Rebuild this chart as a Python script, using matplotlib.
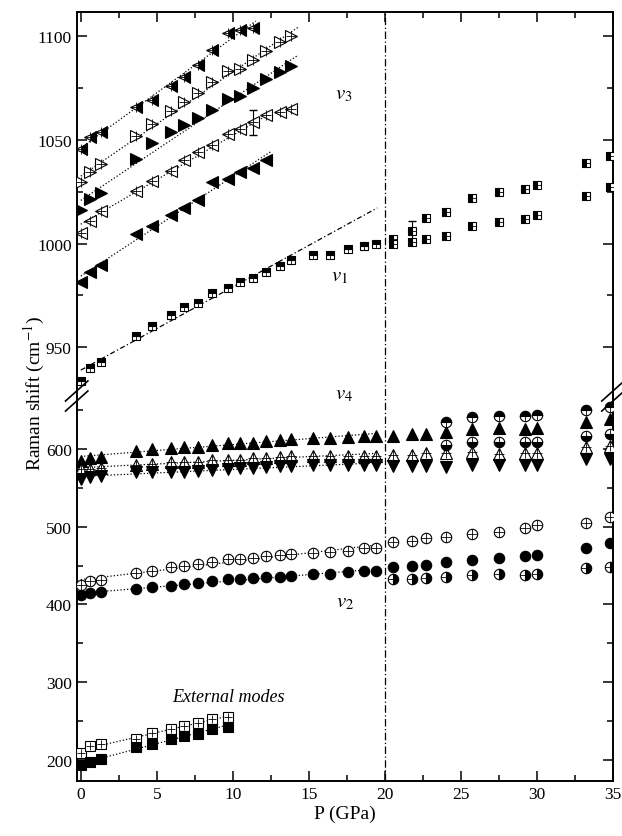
import numpy as np
import matplotlib
matplotlib.use("Agg")
import matplotlib.pyplot as plt
from matplotlib.ticker import MultipleLocator

plt.rcParams['font.family'] = ['Liberation Serif', 'DejaVu Serif']
plt.rcParams['mathtext.fontset'] = 'stix'

# ---------------- data ----------------
P_lo = [0, 0.6, 1.3, 3.6, 4.7, 5.9, 6.8, 7.7, 8.6, 9.7, 10.5, 11.3, 12.2, 13.1, 13.8]
P_mid = [15.3, 16.4, 17.6, 18.6, 19.4]
P_hi = [20.5, 21.8, 22.7, 24.0, 25.7, 27.5, 29.2, 30.0, 33.2, 34.8]
P_hi2 = [24.0, 25.7, 27.5, 29.2, 30.0, 33.2, 34.8]
P_ext = [0, 0.6, 1.3, 3.6, 4.7, 5.9, 6.8, 7.7, 8.6, 9.7]

# v3 (five branches)
v3a_P = [0, 0.6, 1.3, 3.6, 4.7, 5.9, 6.8, 7.7, 8.6, 9.7, 10.5, 11.3]
v3a = [1045.5, 1051.1, 1053.5, 1065.5, 1069.0, 1075.9, 1080.4, 1085.9, 1093.1, 1101.2, 1102.7, 1104.0]
v3b = [1029.4, 1034.2, 1038.2, 1051.9, 1057.5, 1063.6, 1067.9, 1072.7, 1077.6, 1083.1, 1084.0, 1088.3, 1092.5, 1096.8, 1100.0]
v3c = [1016.2, 1021.4, 1024.3, 1040.6, 1048.3, 1053.5, 1057.0, 1060.2, 1064.2, 1069.5, 1070.8, 1075.1, 1079.2, 1082.7, 1085.6]
v3d = [1005.3, 1010.9, 1015.7, 1025.4, 1030.2, 1035.0, 1040.3, 1043.9, 1047.4, 1052.7, 1055.1, 1058.3, 1061.8, 1063.1, 1064.7]
v3e_P = [0, 0.6, 1.3, 3.6, 4.7, 5.9, 6.8, 7.7, 8.6, 9.7, 10.5, 11.3, 12.2]
v3e = [981.3, 986.4, 989.6, 1004.5, 1008.5, 1013.7, 1016.9, 1021.0, 1029.7, 1031.0, 1034.5, 1036.3, 1040.3]

# v1
v1_lo = [933.9, 939.9, 943.0, 955.6, 960.4, 965.5, 969.5, 971.3, 976.1, 978.4, 981.3, 983.3, 986.1, 989.0, 992.2]
v1_mid = [994.4, 994.6, 997.3, 998.9, 999.7]
v1_hi_up = [1002.4, 1006.0, 1012.2, 1015.0, 1021.7, 1024.6, 1026.2, 1028.1, 1039.0, 1042.2]
v1_hi_dn = [1000.0, 1000.8, 1002.1, 1003.4, 1008.5, 1010.2, 1011.7, 1013.7, 1023.0, 1027.0]

# v4
v4_up_lo = [585.0, 588.4, 590.0, 597.8, 600.0, 601.3, 602.0, 603.0, 605.0, 607.0, 607.5, 608.0, 610.0, 612.0, 613.0]
v4_up_mid = [614.0, 614.5, 615.0, 616.0, 617.0]
v4_up_hi = [617.0, 619.0, 619.5, 621.4, 625.7, 627.0, 625.0, 627.0, 634.0, 638.6]
v4_op_lo = [574.0, 574.5, 575.0, 579.4, 580.7, 582.8, 582.8, 583.7, 585.8, 586.0, 586.3, 588.0, 588.4, 590.0, 591.4]
v4_op_mid = [590.6, 590.8, 591.0, 591.2, 591.4]
v4_op_hi = [592.3, 592.3, 594.8, 595.0, 595.5, 594.0, 594.8, 594.8, 602.0, 604.0]
v4_dn_lo = [561.4, 563.5, 564.8, 570.0, 570.0, 570.2, 570.8, 571.5, 573.4, 574.3, 574.8, 575.2, 576.4, 577.5, 577.7]
v4_dn_mid = [579.4, 579.4, 579.4, 579.4, 579.4]
v4_dn_hi = [578.6, 577.7, 577.7, 576.4, 579.4, 579.4, 579.4, 579.4, 587.0, 587.0]
v4_ht_hi2 = [635.0, 640.8, 642.0, 642.0, 643.8, 650.0, 653.6]
v4_hb_hi2 = [605.0, 608.6, 609.4, 609.4, 609.4, 617.0, 619.0]

# v2
v2_op_lo = [425.0, 429.7, 431.8, 441.0, 443.4, 448.5, 450.0, 452.0, 455.0, 458.4, 458.8, 459.5, 462.0, 463.6, 464.5]
v2_op_mid = [466.0, 467.0, 469.0, 472.0, 472.4]
v2_op_hi = [480.0, 481.0, 485.0, 487.2, 490.6, 493.6, 497.9, 502.0, 504.3, 513.0]
v2_fi_lo = [412.0, 414.3, 415.6, 420.0, 422.0, 424.0, 426.0, 427.5, 429.7, 432.7, 433.2, 433.4, 434.8, 435.5, 436.0]
v2_fi_mid = [439.0, 439.2, 442.0, 443.0, 443.4]
v2_fi_hi = [447.7, 449.8, 451.0, 454.0, 457.0, 459.7, 462.7, 464.0, 472.6, 478.6]
v2_hf_hi = [432.7, 433.2, 434.0, 434.8, 438.0, 438.5, 438.0, 439.0, 446.8, 447.5]

# external modes
ext_op = [209.6, 218.0, 220.0, 227.5, 234.4, 240.4, 244.0, 247.4, 252.6, 254.7]
ext_fi = [193.6, 198.0, 201.3, 216.4, 220.7, 227.0, 231.4, 233.6, 240.0, 243.0]

x_ticks = [0, 5, 10, 15, 20, 25, 30, 35]
transition_P = 20

# ---------------- figure ----------------
fig = plt.figure(figsize=(6.22, 8.37), dpi=100)
L, W = 0.1233, 0.8622
axT = fig.add_axes([L, 0.5257, W, 0.4591])
axB = fig.add_axes([L, 0.0661, W, 0.4596])

axT.set_xlim(-0.27, 35.0)
axB.set_xlim(-0.27, 35.0)
axT.set_ylim(926.6, 1111.6)
axB.set_ylim(173.4, 668)

K = 'black'
ms_tri = 8
ms_cir = 7.5
ms_sq = 6


def pts(ax, x, y, marker, ms, fill='full', face=K, cross=False):
    ax.plot(x, y, linestyle='none', marker=marker, markersize=ms, fillstyle=fill,
            markerfacecolor=face, markerfacecoloralt='white', markeredgecolor=K,
            markeredgewidth=0.8, zorder=3)
    if cross:
        ax.plot(x, y, linestyle='none', marker='+', markersize=ms * 0.95,
                markeredgecolor=K, markeredgewidth=0.6, zorder=4)


def fit(ax, x, y, x0, x1, ls=':'):
    c = np.polyfit(x, y, 1)
    xx = np.array([x0, x1])
    ax.plot(xx, np.polyval(c, xx), color=K, linestyle=ls, linewidth=0.9, zorder=2)

dashdot_fit = (0, (4, 2, 1, 2))

# --- top panel: v3
pts(axT, v3a_P, v3a, '<', ms_tri, fill='right', cross=True)
pts(axT, P_lo, v3b, '>', ms_tri, face='white', cross=True)
pts(axT, P_lo, v3c, '>', ms_tri)
pts(axT, P_lo, v3d, '<', ms_tri, face='white', cross=True)
pts(axT, v3e_P, v3e, '<', ms_tri)
fit(axT, v3a_P, v3a, 0, 11.5)
fit(axT, P_lo, v3b, 0, 14.3)
fit(axT, P_lo, v3c, 0, 14.3)
fit(axT, P_lo, v3d, 0, 12.5)
fit(axT, v3e_P, v3e, 0, 12.5)
axT.errorbar([11.3], [1058.3], yerr=[[6], [6]], fmt='none', ecolor=K, elinewidth=0.8, capsize=3)

# --- top panel: v1
pts(axT, P_lo + P_mid, v1_lo + v1_mid, 's', ms_sq, fill='top', cross=True)
pts(axT, P_hi, v1_hi_up, 's', ms_sq, fill='left', cross=True)
pts(axT, P_hi, v1_hi_dn, 's', ms_sq, fill='left', cross=True)
fit(axT, P_lo, v1_lo, 0, 19.5, ls=dashdot_fit)
axT.errorbar([21.8], [1006.0], yerr=[[5], [5]], fmt='none', ecolor=K, elinewidth=0.8, capsize=3)

# --- bottom panel: v4
pts(axB, P_lo + P_mid + P_hi, v4_up_lo + v4_up_mid + v4_up_hi, '^', ms_tri)
pts(axB, P_lo + P_mid + P_hi, v4_op_lo + v4_op_mid + v4_op_hi, '^', ms_tri, face='white', cross=True)
pts(axB, P_lo + P_mid + P_hi, v4_dn_lo + v4_dn_mid + v4_dn_hi, 'v', ms_tri)
pts(axB, P_hi2, v4_ht_hi2, 'o', ms_cir, fill='top', cross=True)
pts(axB, P_hi2, v4_hb_hi2, 'o', ms_cir, fill='bottom', cross=True)
fit(axB, P_lo + P_mid, v4_up_lo + v4_up_mid, 0, 19.5)
fit(axB, P_lo + P_mid, v4_op_lo + v4_op_mid, 0, 19.5)
fit(axB, P_lo + P_mid, v4_dn_lo + v4_dn_mid, 0, 19.5)

# --- bottom panel: v2
pts(axB, P_lo + P_mid + P_hi, v2_op_lo + v2_op_mid + v2_op_hi, 'o', ms_cir, face='white', cross=True)
pts(axB, P_lo + P_mid + P_hi, v2_fi_lo + v2_fi_mid + v2_fi_hi, 'o', ms_cir)
pts(axB, P_hi, v2_hf_hi, 'o', ms_cir, fill='right', cross=True)
fit(axB, P_lo + P_mid, v2_op_lo + v2_op_mid, 0, 19.5)
fit(axB, P_lo + P_mid, v2_fi_lo + v2_fi_mid, 0, 19.5)

# --- bottom panel: external modes
pts(axB, P_ext, ext_op, 's', ms_sq + 0.5, face='white', cross=True)
pts(axB, P_ext, ext_fi, 's', ms_sq + 0.5)
fit(axB, P_ext, ext_op, 0, 10)
fit(axB, P_ext, ext_fi, 0, 10)

# --- transition line
for ax in (axT, axB):
    ax.axvline(transition_P, color=K, linestyle=(0, (6, 2, 1, 2)), linewidth=0.9, zorder=1)

# --- annotations
axT.text(17.3, 1072, r'$v_{\mathit{3}}$', fontsize=15, ha='center', va='center')
axT.text(17.0, 984.5, r'$v_{\mathit{1}}$', fontsize=15, ha='center', va='center')
axB.text(17.3, 671, r'$v_{\mathit{4}}$', fontsize=15, ha='center', va='center')
axB.text(17.4, 403, r'$v_{\mathit{2}}$', fontsize=15, ha='center', va='center')
axB.text(9.7, 282, 'External modes', fontsize=13, style='italic', ha='center', va='center')

# --- axes styling
for ax in (axT, axB):
    for s in ax.spines.values():
        s.set_linewidth(1.4)
    ax.xaxis.set_major_locator(MultipleLocator(5))
    ax.xaxis.set_minor_locator(MultipleLocator(2.5))
    ax.tick_params(which='major', direction='in', length=7, width=1.1, labelsize=12.5)
    ax.tick_params(which='minor', direction='in', length=4, width=1.1)

axT.spines['bottom'].set_visible(False)
axB.spines['top'].set_visible(False)
axT.tick_params(which='both', top=True, bottom=False, right=True, labelbottom=False)
axB.tick_params(which='both', top=False, bottom=True, right=True)
axT.yaxis.set_major_locator(MultipleLocator(50))
axT.yaxis.set_minor_locator(MultipleLocator(25))
axB.yaxis.set_major_locator(MultipleLocator(100))
axB.yaxis.set_minor_locator(MultipleLocator(50))
axB.set_xticks(x_ticks)
axB.set_xlabel('P (GPa)', fontsize=14, labelpad=2)
fig.text(0.055, 0.53, 'Raman shift (cm$^{-1}$)', rotation=90, fontsize=14,
         ha='center', va='center')

# --- break marks
yb = 0.5257
dx, dy = 0.018, 0.012
for xs in (L, L + W):
    for off in (-0.006, 0.006):
        fig.add_artist(plt.Line2D([xs - dx, xs + dx], [yb + off - dy, yb + off + dy],
                                  color=K, linewidth=1.2, transform=fig.transFigure))

fig.savefig('out.png', dpi=100)
